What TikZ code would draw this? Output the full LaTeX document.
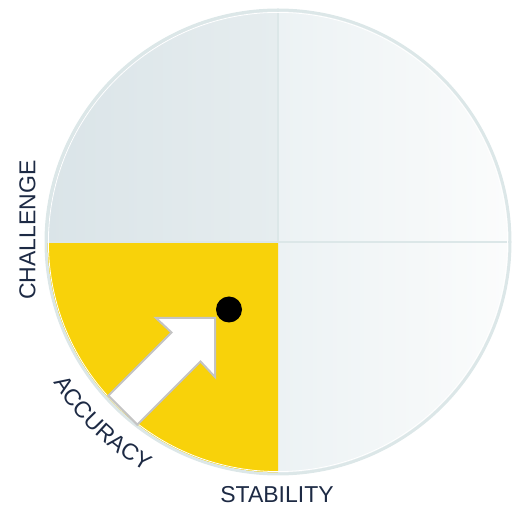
\documentclass[tikz,border=0pt]{standalone}
\usepackage{fontspec}
\setmainfont{Liberation Sans}
\usetikzlibrary{decorations.text}
\definecolor{navy}{HTML}{1D2A44}
\definecolor{tlL}{HTML}{DAE4E8}
\definecolor{tlR}{HTML}{E6EDEF}
\definecolor{rL}{HTML}{ECF2F4}
\definecolor{rR}{HTML}{FBFCFC}
\definecolor{ylw}{HTML}{F8D20A}
\definecolor{rim}{HTML}{DCE7E8}
\definecolor{arrowgray}{HTML}{C4C4C4}
\newfontfamily\labfont{Liberation Sans}
\newcommand{\labsize}{\labfont\fontsize{23}{25}\selectfont\color{navy}}
\tikzset{
  divider/.style={draw=rim, line width=2pt},
  rimline/.style={draw=rim, line width=3pt},
  label/.style={inner sep=0pt, font=\labsize, text=navy},
  bigarrow/.style={fill=white, draw=arrowgray, line width=2pt, line join=miter},
  marker/.style={fill=black}
}
\begin{document}
\begin{tikzpicture}[x=1pt,y=-1pt]
\useasboundingbox (0,0) rectangle (512,510);
\coordinate (c) at (278,242);
% quadrants
\fill[left color=tlL, right color=tlR] (c) -- (46,242) arc (180:270:232) -- cycle;
\fill[left color=rL, right color=rR] (c) -- (278,10) arc (270:360:232) -- cycle;
\fill[left color=rL, right color=rR] (c) -- (510,242) arc (0:90:232) -- cycle;
\fill[ylw] (c) -- (278,474) arc (90:180:232) -- cycle;
% dividers
\coordinate (w) at (46,242);
\coordinate (e) at (510,242);
\coordinate (n) at (278,10);
\coordinate (s) at (278,474);
\draw[divider] (w) -- (e);
\draw[divider] (n) -- (c);
% rim
\draw[white, line width=0.8pt] (c) circle (229.6);
\draw[rimline] (c) circle (232);
% arrow
\draw[bigarrow] (215,318) -- (156,318) -- (171.5,332.5) -- (108.3,395.7)
  -- (137.3,424.7) -- (200.5,361.5) -- (215,377) -- cycle;
% dot
\node[marker, circle, minimum size=26pt, inner sep=0pt] (dot) at (229,309.5) {};
% labels
\node[label, rotate=90] (challenge) at (27.5,230) {CHALLENGE};
\node[label] (stability) at (277,495) {STABILITY};
\path[decorate, decoration={text along path, text align=center,
  text={|\labsize|ACCURACY}}] (44.0,366.4) arc (152:116:265);
\end{tikzpicture}
\end{document}
